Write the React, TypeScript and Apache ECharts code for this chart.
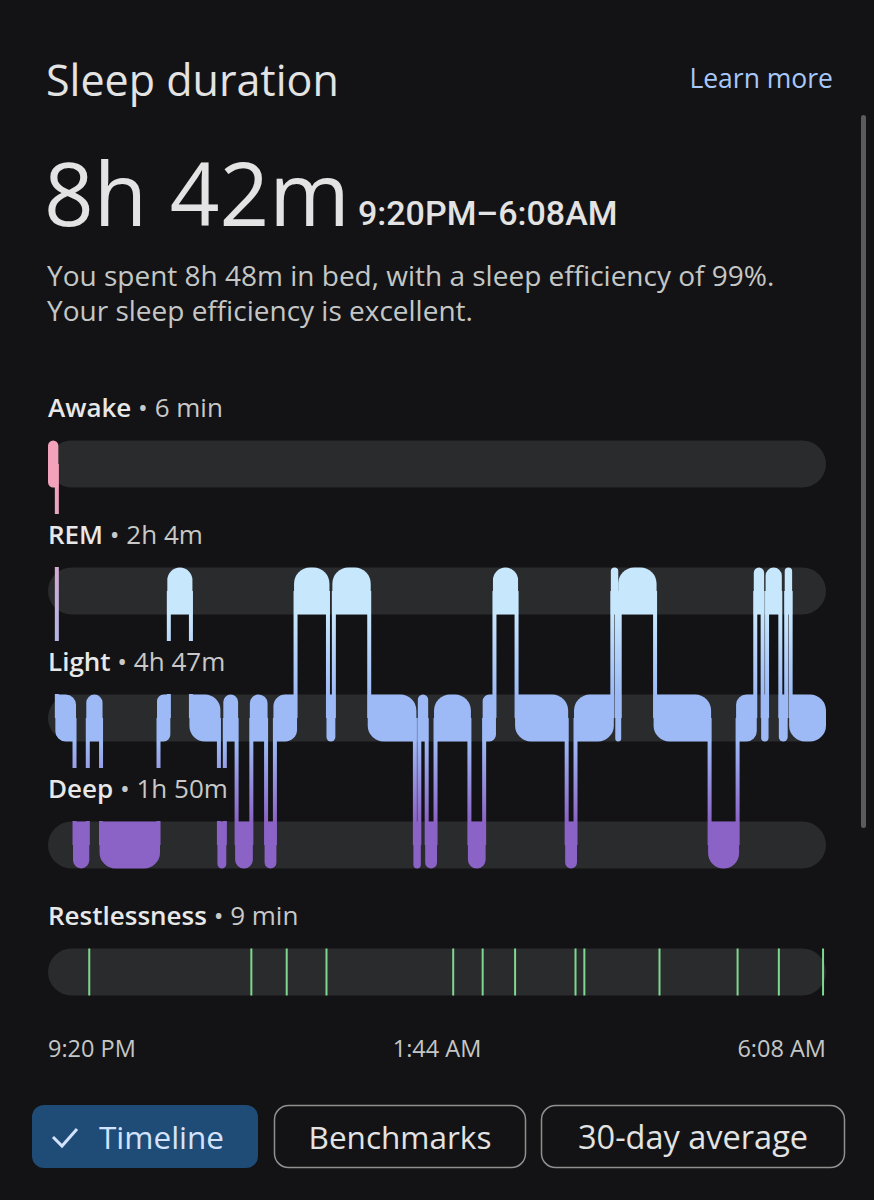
import React, { useEffect, useRef } from 'react';
import * as echarts from 'echarts';

// ---- data ----
const stageNames = ['Awake', 'REM', 'Light', 'Deep', 'Restlessness'];
const stageTotals = ['6 min', '2h 4m', '4h 47m', '1h 50m', '9 min'];
const stageColors = ['#F3A2BC', '#C7E7FD', '#9DBAF6', '#8B63C6'];
// stage index per segment (0 Awake, 1 REM, 2 Light, 3 Deep)
const segmentStage = [0, 2, 3, 2, 3, 2, 1, 2, 3, 2, 3, 2, 3, 2, 1, 2, 1, 2, 3, 2, 3, 2, 3, 2, 1, 2, 3, 2, 1, 2, 1, 2, 3, 2, 1, 2, 1, 2, 1, 2];
// segment start, minutes after 9:20 PM
const segmentStartMin = [0, 6, 18, 27, 36, 75, 82, 97, 116, 120, 128, 138, 148, 154, 168, 190, 194, 218, 249, 252, 257, 263, 286, 296, 303, 318, 352, 358, 383, 386, 388, 412, 449, 468, 480, 485, 488, 497, 501, 504];
const sleepEndMin = 528;
const restlessMin = [28, 138, 162, 189, 275, 295, 317, 358, 364, 415, 468, 496, 526];
const timeTickMin = [0, 264, 528];
const timeTickLabels = ['9:20 PM', '1:44 AM', '6:08 AM'];

const BG = '#131315';
const BAND = '#2A2B2D';
const FONT = '"Open Sans", "Noto Sans", sans-serif';
const bandRatio = 47 / 127;

export default function App() {
  const ref = useRef<HTMLDivElement>(null);
  useEffect(() => {
    if (!ref.current) return;
    const chart = echarts.init(ref.current, null, { renderer: 'svg' });

    const blocks = segmentStage.map((st, i) => {
      const s = segmentStartMin[i];
      const e = i + 1 < segmentStartMin.length ? segmentStartMin[i + 1] : sleepEndMin;
      const pv = i > 0 ? segmentStage[i - 1] : -1;
      const nx = i + 1 < segmentStage.length ? segmentStage[i + 1] : -1;
      return [s, e, st, pv, nx];
    });
    const connectors = segmentStage.slice(1).map((st, i) => [segmentStartMin[i + 1], segmentStage[i], st]);
    const bands = stageNames.map((_, i) => [i]);
    const restless = restlessMin.map((m) => [m]);

    const labelGraphics = stageNames.map((name, i) => {
      const c = 464 + 127 * i;
      return {
        type: 'text',
        z: 3,
        x: 48,
        y: c - 77,
        style: {
          text: `{n|${name}}{t| • ${stageTotals[i]}}`,
          rich: {
            n: { fontFamily: FONT, fontSize: 26, fontWeight: 600, fill: '#E8E8E8', lineHeight: 30 },
            t: { fontFamily: FONT, fontSize: 26, fill: '#C8C8C8', lineHeight: 30 },
          },
          padding: [5, 4, 18, 0],
          backgroundColor: BG,
          verticalAlign: 'top',
          align: 'left',
        },
      };
    });

    const option: any = {
      animation: false,
      backgroundColor: BG,
      grid: { left: 48, right: 48, top: 400.5, height: 635, containLabel: false, outerBoundsMode: 'none' },
      xAxis: {
        type: 'value',
        min: 0,
        max: sleepEndMin,
        interval: 264,
        axisLine: { show: false },
        axisTick: { show: false },
        splitLine: { show: false },
        axisLabel: {
          color: '#C4C7C5',
          fontSize: 23.5,
          fontFamily: FONT,
          margin: 0,
          showMinLabel: true,
          showMaxLabel: true,
          alignMinLabel: 'left',
          alignMaxLabel: 'right',
          formatter: (v: number) => {
            const k = timeTickMin.indexOf(v);
            return k >= 0 ? timeTickLabels[k] : '';
          },
        },
      },
      yAxis: { type: 'value', min: -0.5, max: 4.5, inverse: true, show: false },
      series: [
        {
          type: 'custom',
          z: 1,
          data: bands,
          encode: { y: 0 },
          renderItem: (params: any, api: any) => {
            const lv = api.value(0);
            const a = api.coord([0, lv]);
            const b = api.coord([sleepEndMin, lv]);
            const h = api.size([0, 1])[1] * bandRatio;
            return {
              type: 'rect',
              shape: { x: a[0], y: a[1] - h / 2, width: b[0] - a[0], height: h, r: h / 2 },
              style: { fill: BAND },
            };
          },
        },
        {
          type: 'custom',
          z: 2,
          data: connectors,
          encode: { x: 0, y: [1, 2] },
          renderItem: (params: any, api: any) => {
            const t = api.value(0);
            const f = api.value(1);
            const to = api.value(2);
            const top = Math.min(f, to);
            const bot = Math.max(f, to);
            const p1 = api.coord([t, top]);
            const p2 = api.coord([t, bot]);
            const h = api.size([0, 1])[1] * bandRatio;
            const len = p2[1] - p1[1];
            const edge = h / 2 / len;
            return {
              type: 'rect',
              shape: { x: p1[0] - 2, y: p1[1], width: 4, height: len },
              style: {
                fill: {
                  type: 'linear', x: 0, y: 0, x2: 0, y2: 1,
                  colorStops: [
                    { offset: 0, color: stageColors[top] },
                    { offset: edge, color: stageColors[top] },
                    { offset: 1 - edge, color: stageColors[bot] },
                    { offset: 1, color: stageColors[bot] },
                  ],
                },
              },
            };
          },
        },
        {
          type: 'custom',
          z: 4,
          data: blocks,
          encode: { x: [0, 1], y: 2 },
          renderItem: (params: any, api: any) => {
            const s = api.value(0);
            const e = api.value(1);
            const st = api.value(2);
            const pv = api.value(3);
            const nx = api.value(4);
            const a = api.coord([s, st]);
            const b = api.coord([e, st]);
            const h = api.size([0, 1])[1] * bandRatio;
            const x0 = a[0] - (pv >= 0 ? 1.5 : 0);
            const x1 = b[0] + (nx >= 0 ? 1.5 : 0);
            const w = x1 - x0;
            const r = Math.min(16, w / 2, h / 2);
            const tl = pv >= 0 && pv < st ? 0 : r;
            const bl = pv > st ? 0 : r;
            const tr = nx >= 0 && nx < st ? 0 : r;
            const br = nx > st ? 0 : r;
            return {
              type: 'rect',
              shape: { x: x0, y: a[1] - h / 2, width: w, height: h, r: [tl, tr, br, bl] },
              style: { fill: stageColors[st] },
            };
          },
        },
        {
          type: 'custom',
          z: 4,
          data: restless,
          encode: { x: 0 },
          renderItem: (params: any, api: any) => {
            const p = api.coord([api.value(0), 4]);
            const h = api.size([0, 1])[1] * bandRatio;
            return {
              type: 'rect',
              shape: { x: p[0] - 1, y: p[1] - h / 2, width: 2, height: h },
              style: { fill: '#7FD88E' },
            };
          },
        },
      ],
      graphic: [
        { type: 'text', x: 46, y: 79, style: { text: 'Sleep duration', fontFamily: FONT, fontSize: 43, fill: '#E3E3E3', verticalAlign: 'middle' } },
        { type: 'text', x: 833, y: 78, style: { text: 'Learn more', fontFamily: FONT, fontSize: 26.5, fill: '#A8C7FA', align: 'right', verticalAlign: 'middle' } },
        { type: 'text', x: 44, y: 192, style: { text: '8h 42m', fontFamily: FONT, fontSize: 87, fill: '#E3E3E3', verticalAlign: 'middle' } },
        { type: 'text', x: 358, y: 213, style: { text: '9:20PM–6:08AM', fontFamily: 'Roboto, sans-serif', fontSize: 34, fontWeight: 500, fill: '#E3E3E3', verticalAlign: 'middle' } },
        { type: 'text', x: 47, y: 275, style: { text: 'You spent 8h 48m in bed, with a sleep efficiency of 99%.', fontFamily: FONT, fontSize: 28, fill: '#C4C7C5', verticalAlign: 'middle' } },
        { type: 'text', x: 47, y: 310, style: { text: 'Your sleep efficiency is excellent.', fontFamily: FONT, fontSize: 28, fill: '#C4C7C5', verticalAlign: 'middle' } },
        { type: 'rect', shape: { x: 861, y: 115, width: 5, height: 713, r: 2.5 }, style: { fill: '#5A5B5D' } },
        ...labelGraphics,
        { type: 'rect', shape: { x: 32, y: 1105, width: 226, height: 63, r: 12 }, style: { fill: '#1F4B77' } },
        { type: 'polyline', shape: { points: [[53, 1137], [62, 1146], [77, 1129]] }, style: { stroke: '#D3E3FD', lineWidth: 3, fill: null } },
        { type: 'text', x: 99, y: 1136, style: { text: 'Timeline', fontFamily: FONT, fontSize: 31.5, fill: '#D3E3FD', verticalAlign: 'middle' } },
        { type: 'rect', shape: { x: 274.5, y: 1105.5, width: 251, height: 62, r: 14 }, style: { fill: null, stroke: '#8E918F', lineWidth: 1.5 } },
        { type: 'text', x: 400, y: 1136, style: { text: 'Benchmarks', fontFamily: FONT, fontSize: 31.5, fill: '#E3E3E3', align: 'center', verticalAlign: 'middle' } },
        { type: 'rect', shape: { x: 541.5, y: 1105.5, width: 303, height: 62, r: 14 }, style: { fill: null, stroke: '#8E918F', lineWidth: 1.5 } },
        { type: 'text', x: 693, y: 1136, style: { text: '30-day average', fontFamily: FONT, fontSize: 32.5, fill: '#E3E3E3', align: 'center', verticalAlign: 'middle' } },
      ],
    };
    chart.setOption(option);
    return () => chart.dispose();
  }, []);
  return <div ref={ref} style={{ position: 'absolute', left: 0, top: 0, width: 874, height: 1200, background: BG }} />;
}
